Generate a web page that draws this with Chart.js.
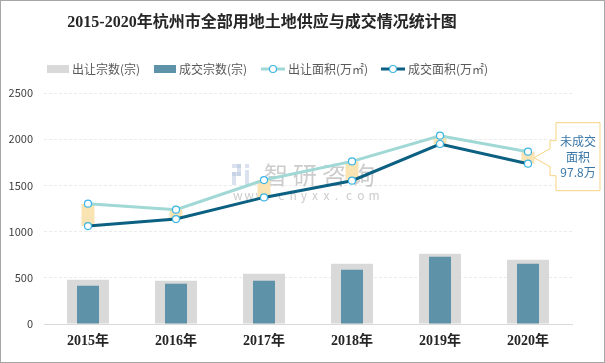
<!DOCTYPE html>
<html>
<head>
<meta charset="utf-8">
<script src="https://cdn.jsdelivr.net/npm/chart.js@4"></script>
<style>
  body { margin: 0; background: #fff; }
  canvas { display: block; }
</style>
</head>
<body>
<canvas id="myChart" width="605" height="363"></canvas>
<script>
// data
const years = ["2015年", "2016年", "2017年", "2018年", "2019年", "2020年"];
const supplyCount = [479, 469, 544, 653, 761, 696];   // 出让宗数(宗)
const dealCount = [414, 436, 469, 588, 729, 653];     // 成交宗数(宗)
const supplyArea = [1302, 1237, 1558, 1760, 2038, 1865]; // 出让面积(万㎡)
const dealArea = [1060, 1136, 1370, 1551, 1948, 1735];   // 成交面积(万㎡)
const yTicks = [0, 500, 1000, 1500, 2000, 2500];
const calloutLines = ["未成交", "面积", "97.8万"];

const titleText = "2015-2020年杭州市全部用地土地供应与成交情况统计图";
const legendItems = [
  { text: "出让宗数(宗)", type: "rect", color: "#D9D9D9" },
  { text: "成交宗数(宗)", type: "rect", color: "#5E92A8" },
  { text: "出让面积(万㎡)", type: "line", color: "#A0D8D5" },
  { text: "成交面积(万㎡)", type: "line", color: "#0C6082" },
];

const CJK = '"Noto Sans CJK SC", "Noto Sans", sans-serif';
const SERIF = '"Liberation Serif", "Noto Sans CJK SC", serif';

// gap between the two area lines, as floating bars
const gapBars = supplyArea.map((v, i) => [dealArea[i], v]);

const extras = {
  id: "extras",
  beforeDraw(chart) {
    const c = chart.ctx;
    c.save();
    c.fillStyle = "#fff";
    c.fillRect(0, 0, chart.width, chart.height);
    c.restore();
  },
  beforeDatasetsDraw(chart) {
    // watermark
    const c = chart.ctx;
    c.save();
    c.globalAlpha = 0.5;
    c.fillStyle = "#B4C6DE";
    c.fillRect(232, 164, 9, 4);
    c.fillRect(237, 164, 4, 12);
    c.fillRect(232, 172, 9, 4);
    c.fillRect(232, 172, 4, 13);
    c.fillRect(245, 164, 4, 4);
    c.fillRect(245, 170, 4, 15);
    c.fillStyle = "#9A9A9A";
    c.font = "24px " + CJK;
    c.textBaseline = "middle";
    c.textAlign = "left";
    let x = 264;
    for (const ch of "智研咨询") {
      c.fillText(ch, x, 175);
      x += 29;
    }
    c.font = "12px " + CJK;
    x = 233;
    for (const ch of "www.chyxx.com") {
      c.fillText(ch, x, 195);
      x += 11.3;
    }
    c.restore();
  },
  afterDraw(chart) {
    const c = chart.ctx;
    c.save();

    // title
    c.fillStyle = "#262626";
    c.font = "bold 16px " + SERIF;
    c.textAlign = "center";
    c.textBaseline = "middle";
    c.fillText(titleText, 262, 23);

    // legend
    c.font = "12px " + CJK;
    c.textAlign = "left";
    const lx = [47, 154, 261, 381];
    legendItems.forEach((it, i) => {
      const x0 = lx[i];
      const y0 = 69;
      if (it.type === "rect") {
        c.fillStyle = it.color;
        c.fillRect(x0, y0 - 4, 22, 8);
        c.fillStyle = "#595959";
        c.fillText(it.text, x0 + 25, y0);
      } else {
        c.strokeStyle = it.color;
        c.lineWidth = 3;
        c.beginPath();
        c.moveTo(x0, y0);
        c.lineTo(x0 + 24, y0);
        c.stroke();
        c.fillStyle = "#fff";
        c.strokeStyle = "#3CB4E5";
        c.lineWidth = 1.2;
        c.beginPath();
        c.arc(x0 + 12, y0, 3.5, 0, Math.PI * 2);
        c.fill();
        c.stroke();
        c.fillStyle = "#595959";
        c.fillText(it.text, x0 + 27, y0);
      }
    });

    // callout for the last year
    const xs = chart.scales.x;
    const ys = chart.scales.y;
    const last = years.length - 1;
    const tipX = xs.getPixelForValue(last) + 6;
    const tipY = (ys.getPixelForValue(supplyArea[last]) + ys.getPixelForValue(dealArea[last])) / 2;
    const bx = tipX + 22, by = tipY - 35, bw = 44, bh = 68;
    c.fillStyle = "#fff";
    c.strokeStyle = "#F7D384";
    c.lineWidth = 1;
    c.beginPath();
    c.moveTo(bx, tipY - 17);
    c.lineTo(bx, by);
    c.lineTo(bx + bw, by);
    c.lineTo(bx + bw, by + bh);
    c.lineTo(bx, by + bh);
    c.lineTo(bx, tipY + 18);
    c.lineTo(bx - 6, tipY + 18);
    c.lineTo(bx - 6, tipY + 9);
    c.lineTo(tipX, tipY);
    c.lineTo(bx - 6, tipY - 9);
    c.lineTo(bx - 6, tipY - 17);
    c.closePath();
    c.fill();
    c.stroke();
    c.fillStyle = "#3A76A6";
    c.font = "12px " + CJK;
    c.textAlign = "center";
    calloutLines.forEach((t, i) => {
      c.fillText(t, bx + bw / 2, tipY - 16 + i * 15.5);
    });

    // outer frame
    c.strokeStyle = "#A6A6A6";
    c.lineWidth = 1;
    c.strokeRect(0.5, 0.5, chart.width - 1, chart.height - 1);
    c.restore();
  },
};

function initChart() {
  const ctx = document.getElementById("myChart");
  if (!ctx) return;

  const pointStyle = {
    pointRadius: 3.5,
    pointBackgroundColor: "#fff",
    pointBorderColor: "#3CB4E5",
    pointBorderWidth: 1.2,
    borderWidth: 3,
    tension: 0,
  };

  new Chart(ctx, {
    type: "bar",
    data: {
      labels: years,
      datasets: [
        {
          type: "line",
          label: "出让面积(万㎡)",
          data: supplyArea,
          borderColor: "#A0D8D5",
          order: 0,
          ...pointStyle,
        },
        {
          type: "line",
          label: "成交面积(万㎡)",
          data: dealArea,
          borderColor: "#0C6082",
          order: 0,
          ...pointStyle,
        },
        {
          label: "gap",
          data: gapBars,
          backgroundColor: "#FBE4B3",
          grouped: false,
          categoryPercentage: 1,
          barPercentage: 0.148,
          order: 1,
        },
        {
          label: "成交宗数(宗)",
          data: dealCount,
          backgroundColor: "#5E92A8",
          grouped: false,
          categoryPercentage: 1,
          barPercentage: 0.25,
          order: 2,
        },
        {
          label: "出让宗数(宗)",
          data: supplyCount,
          backgroundColor: "#D9D9D9",
          grouped: false,
          categoryPercentage: 1,
          barPercentage: 0.477,
          order: 3,
        },
      ],
    },
    options: {
      responsive: false,
      animation: false,
      layout: {
        padding: { top: 93, right: 33, bottom: 0, left: 0 },
      },
      scales: {
        x: {
          grid: { display: false, drawTicks: false },
          border: { display: true, color: "#D9D9D9", width: 1 },
          ticks: {
            color: "#262626",
            padding: 9,
            font: { family: SERIF, size: 14, weight: "bold" },
          },
          afterFit: (scale) => {
            scale.height = 39;
          },
        },
        y: {
          min: 0,
          max: 2500,
          afterBuildTicks: (scale) => {
            scale.ticks = yTicks.map((v) => ({ value: v }));
          },
          grid: { color: "#EBEBEB", drawTicks: false },
          border: { display: false, dash: [3, 2] },
          ticks: {
            color: "#404040",
            padding: 11,
            font: { family: CJK, size: 11 },
            callback: (value) => String(value),
          },
          afterFit: (scale) => {
            scale.width = 44;
          },
        },
      },
      plugins: {
        legend: { display: false },
        title: { display: false },
        tooltip: { enabled: false },
      },
    },
    plugins: [extras],
  });
}

document.addEventListener("DOMContentLoaded", initChart);
</script>
</body>
</html>
